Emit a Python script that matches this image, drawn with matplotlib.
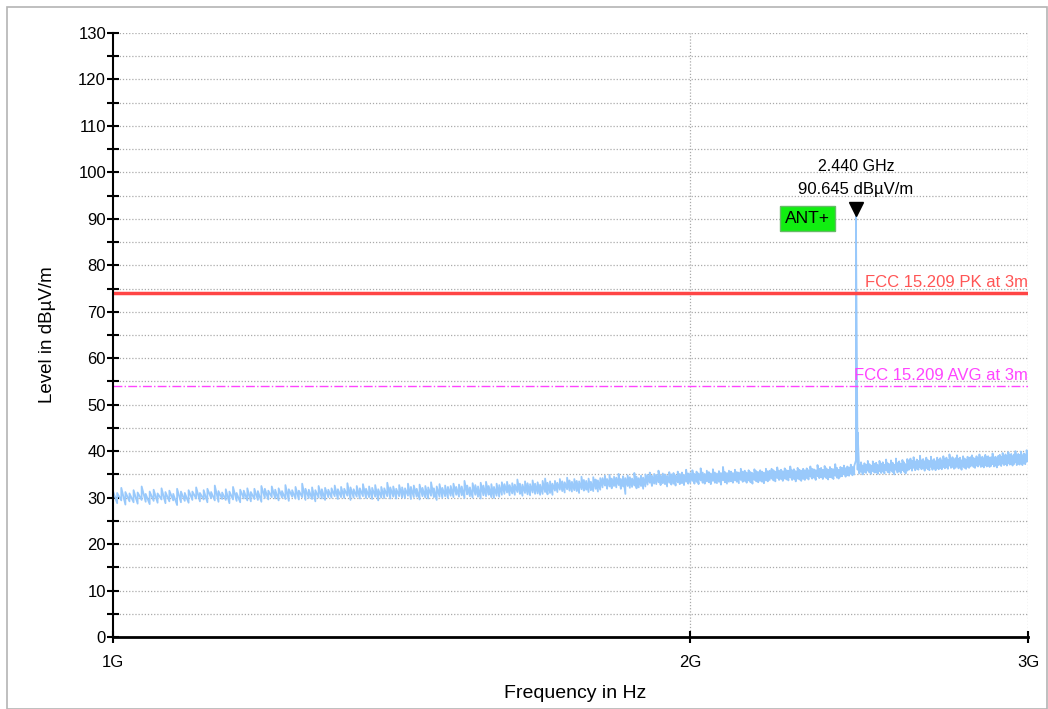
import numpy as np
import matplotlib
matplotlib.use("Agg")
import matplotlib.pyplot as plt
from matplotlib.patches import Rectangle
from matplotlib.ticker import FixedLocator, NullLocator

plt.rcParams['font.family'] = ['Liberation Sans', 'DejaVu Sans']

# sweep 1 GHz .. 3 GHz, 5 MHz bins (401 points)
freq_ghz = np.linspace(1.0, 3.0, 401)

# max level in each bin, dBuV/m (one row per 100 MHz)
level_max = [
    31.4, 31.0, 32.1, 31.2, 30.9, 31.6, 31.1, 32.4, 30.8, 31.3, 31.7, 30.9, 32.0, 31.2, 31.5, 30.8, 31.9, 31.3, 31.0, 31.6,
    31.3, 32.2, 31.0, 31.6, 31.9, 31.2, 32.6, 31.4, 31.1, 31.8, 31.3, 32.3, 31.0, 31.7, 31.5, 32.0, 31.2, 31.9, 31.4, 32.5,
    31.9, 31.5, 32.4, 31.7, 32.0, 31.4, 32.7, 31.8, 31.6, 32.3, 31.5, 33.0, 31.9, 31.7, 32.2, 31.6, 32.5, 31.8, 32.1, 31.7,
    32.0, 32.6, 31.8, 32.3, 31.9, 33.1, 32.2, 31.8, 32.5, 32.0, 32.9, 31.9, 32.4, 32.1, 32.7, 31.8, 32.3, 32.0, 33.2, 32.2,
    32.4, 31.9, 32.7, 32.2, 32.0, 33.0, 32.3, 32.6, 31.9, 32.8, 32.1, 32.5, 32.2, 33.3, 32.0, 32.4, 32.9, 32.1, 32.6, 32.3,
    32.5, 33.0, 32.3, 32.8, 32.4, 33.6, 32.6, 32.2, 33.1, 32.7, 32.4, 33.2, 32.6, 33.4, 32.5, 32.9, 32.3, 33.0, 32.7, 33.3,
    32.9, 33.4, 32.7, 33.1, 32.8, 33.9, 33.0, 32.8, 33.5, 33.1, 32.9, 33.7, 33.0, 33.3, 32.8, 33.6, 34.1, 33.2, 33.5, 33.0,
    33.6, 33.2, 34.0, 33.5, 33.3, 34.3, 33.7, 33.4, 34.0, 33.6, 33.5, 34.5, 33.8, 33.6, 34.1, 33.4, 34.4, 33.9, 33.7, 34.2,
    34.2, 34.7, 34.0, 34.9, 34.1, 34.5, 34.3, 35.1, 34.0, 34.6, 34.2, 34.8, 34.4, 34.1, 35.3, 34.5, 34.2, 34.7, 34.3, 35.0,
    34.9, 35.4, 34.7, 35.1, 34.9, 35.8, 34.8, 35.2, 35.0, 34.7, 35.5, 35.0, 35.3, 34.8, 35.6, 35.1, 35.4, 34.9, 36.0, 35.2,
    35.3, 35.9, 35.1, 35.6, 35.2, 36.3, 35.4, 35.1, 35.8, 35.5, 35.2, 36.1, 35.4, 35.2, 35.7, 35.3, 36.6, 35.5, 35.3, 35.8,
    35.6, 35.3, 36.0, 35.5, 35.4, 36.2, 35.6, 35.8, 35.4, 35.9, 35.5, 35.3, 36.1, 35.7, 35.5, 35.9, 35.6, 35.4, 36.2, 35.7,
    35.8, 36.2, 35.9, 35.6, 36.5, 35.8, 36.0, 35.7, 36.3, 35.9, 35.8, 36.7, 35.9, 36.1, 35.7, 36.4, 36.0, 35.8, 36.2, 35.9,
    36.3, 35.9, 36.7, 36.2, 36.1, 35.9, 37.0, 36.2, 36.4, 36.0, 36.8, 36.3, 36.0, 36.6, 36.2, 36.1, 37.2, 36.4, 36.0, 36.6,
    36.4, 36.9, 36.3, 36.7, 36.5, 37.1, 36.6, 36.8, 90.645, 44.0, 37.0, 37.6, 36.9, 37.4, 37.1, 37.9, 37.2, 36.9, 37.8, 37.3,
    37.5, 37.0, 37.9, 37.3, 37.6, 37.1, 38.2, 37.4, 37.2, 38.0, 37.5, 37.1, 38.4, 37.4, 37.8, 37.3, 38.1, 37.6, 37.2, 38.3,
    38.0, 38.4, 37.9, 38.7, 37.8, 38.2, 37.9, 39.0, 38.0, 38.3, 37.8, 38.6, 38.1, 37.9, 38.8, 38.0, 38.3, 37.8, 38.6, 38.1,
    38.5, 38.0, 38.9, 38.3, 38.6, 38.1, 39.3, 38.4, 38.7, 38.2, 38.5, 39.1, 38.3, 38.6, 38.0, 38.9, 38.4, 38.2, 38.8, 38.5,
    38.7, 39.1, 38.5, 38.4, 38.9, 38.6, 39.3, 38.5, 38.8, 38.4, 39.2, 38.7, 38.9, 38.5, 38.7, 39.5, 38.6, 38.8, 38.4, 39.0,
    39.2, 38.8, 39.6, 39.0, 39.3, 38.9, 39.8, 39.1, 39.4, 38.9, 39.3, 40.0, 39.0, 39.4, 39.2, 39.9, 39.1, 39.5, 39.3, 40.2,
    39.8,
]

# min level in each bin, dBuV/m
level_min = [
    29.1, 28.8, 29.4, 28.5, 29.2, 29.0, 28.7, 29.5, 29.1, 28.6, 29.3, 28.9, 29.6, 28.8, 29.2, 29.4, 28.4, 29.0, 29.3, 28.9,
    29.5, 29.8, 29.2, 29.6, 29.0, 29.9, 29.4, 29.1, 29.7, 29.5, 28.8, 29.6, 29.3, 29.0, 29.8, 29.4, 29.2, 29.7, 29.5, 29.1,
    29.9, 29.6, 30.1, 29.8, 29.4, 30.0, 29.7, 29.3, 30.2, 29.8, 29.6, 30.1, 29.5, 29.9, 29.7, 29.2, 30.0, 29.8, 29.5, 30.1,
    30.0, 30.3, 29.7, 30.1, 29.9, 30.4, 29.5, 30.0, 30.2, 29.8, 30.3, 29.9, 30.1, 29.7, 30.2, 29.4, 30.0, 29.9, 30.3, 29.8,
    30.2, 29.8, 30.3, 30.0, 29.9, 30.4, 29.7, 30.1, 30.2, 29.6, 30.3, 30.0, 29.8, 30.4, 30.1, 29.5, 30.2, 30.0, 30.3, 29.9,
    30.4, 30.1, 30.6, 30.2, 30.5, 29.9, 30.7, 30.3, 30.0, 30.6, 30.2, 29.8, 30.5, 30.3, 30.6, 30.1, 29.9, 30.4, 30.2, 30.6,
    30.8, 31.1, 30.5, 30.9, 30.6, 31.2, 30.8, 30.4, 31.0, 30.7, 30.5, 31.1, 30.8, 30.9, 30.6, 30.8, 31.2, 30.7, 31.0, 30.6,
    31.5, 31.2, 31.7, 31.4, 31.1, 31.8, 31.5, 31.3, 31.6, 31.4, 31.0, 31.8, 31.5, 31.7, 31.2, 31.6, 31.4, 31.9, 31.3, 31.7,
    32.2, 32.6, 31.9, 32.4, 32.0, 32.5, 32.2, 32.7, 31.9, 32.4, 30.8, 32.5, 32.1, 32.3, 32.6, 32.0, 32.2, 32.5, 31.9, 32.4,
    32.8, 33.2, 32.5, 33.0, 32.9, 33.3, 32.7, 33.1, 32.9, 32.4, 33.2, 32.8, 33.0, 32.6, 33.3, 32.9, 33.1, 32.7, 33.4, 33.0,
    33.2, 33.6, 33.0, 33.4, 32.9, 33.7, 33.2, 33.0, 33.5, 33.3, 32.9, 33.6, 33.2, 33.1, 33.4, 32.8, 33.7, 33.3, 33.0, 33.4,
    33.5, 33.2, 33.7, 33.4, 33.1, 33.8, 33.4, 33.6, 33.2, 33.7, 33.3, 33.0, 33.8, 33.5, 33.3, 33.6, 33.4, 33.1, 33.7, 33.5,
    33.8, 34.1, 33.7, 33.5, 34.2, 33.8, 34.0, 33.6, 34.1, 33.9, 33.7, 34.3, 33.8, 34.0, 33.5, 34.1, 33.9, 33.6, 34.0, 33.8,
    34.2, 33.9, 34.5, 34.1, 34.3, 33.8, 34.6, 34.2, 34.4, 34.0, 34.5, 34.2, 33.9, 34.4, 34.3, 34.0, 34.7, 34.3, 34.1, 34.5,
    34.6, 35.0, 34.5, 34.8, 34.7, 35.1, 34.8, 35.0, 38.0, 36.0, 35.2, 35.6, 35.0, 35.5, 35.3, 35.8, 35.4, 35.1, 35.7, 35.4,
    35.4, 35.1, 35.7, 35.3, 35.6, 35.2, 35.9, 35.5, 35.3, 35.8, 35.5, 35.0, 36.0, 35.4, 35.7, 35.3, 35.9, 35.6, 35.2, 35.8,
    36.0, 36.3, 35.8, 36.4, 35.9, 36.2, 36.0, 36.5, 36.1, 36.3, 35.8, 36.4, 36.1, 35.9, 36.6, 36.0, 36.3, 35.9, 36.4, 36.1,
    36.4, 36.1, 36.6, 36.3, 36.5, 36.2, 36.9, 36.4, 36.6, 36.2, 36.4, 36.8, 36.3, 36.5, 36.0, 36.7, 36.4, 36.2, 36.6, 36.4,
    36.7, 37.0, 36.6, 36.4, 36.9, 36.7, 37.1, 36.6, 36.8, 36.5, 37.0, 36.7, 36.9, 36.6, 36.8, 37.2, 36.7, 36.9, 36.5, 37.0,
    37.1, 36.8, 37.3, 37.0, 37.2, 36.9, 37.5, 37.1, 37.3, 36.9, 37.2, 37.6, 37.0, 37.3, 37.1, 37.5, 37.0, 37.4, 37.2, 37.7,
    37.9,
]

limit_pk = 74.0
limit_avg = 54.0
peak_freq = 2.440
peak_level = 90.645

x_ticks = [1.0, 2.0, 3.0]
x_ticklabels = ['1G', '2G', '3G']

fig = plt.figure(figsize=(10.48, 7.09), dpi=100)
ax = fig.add_axes([113 / 1048, 1 - 637 / 709, 915 / 1048, 604 / 709])

# grey frame round the whole picture
fig.patches.append(Rectangle((7 / 1048, 0.0), 1040 / 1048, 702 / 709, transform=fig.transFigure,
                             fill=False, edgecolor='#b4b4b4', lw=1.2))

ax.set_xscale('log')
ax.set_xlim(1.0, 3.0)
ax.set_ylim(0, 130)

# grid
for yv in np.arange(5, 131, 5):
    ax.axhline(yv, color='#aaaaaa', lw=0.9, ls=(0, (1, 1.5)), zorder=0)
for xv in [2.0, 3.0]:
    ax.axvline(xv, color='#aaaaaa', lw=0.9, ls=(0, (1, 1.5)), zorder=0)

# trace: min -> max in every bin, so it draws as a band
trace_x = np.repeat(freq_ghz, 2)
trace_y = np.column_stack([level_min, level_max]).ravel()
ax.plot(trace_x, trace_y, color='#99c9fb', lw=1.3, zorder=2)

ax.axhline(limit_pk, color='#ff4545', lw=2.5, zorder=3)
ax.axhline(limit_avg, color='#ff44ff', lw=1.0, ls='-.', zorder=3)
ax.text(3.0, limit_pk + 0.6, 'FCC 15.209 PK at 3m', color='#ff5555', fontsize=12,
        ha='right', va='bottom', zorder=4)
ax.text(3.0, limit_avg + 0.7, 'FCC 15.209 AVG at 3m', color='#ff44ff', fontsize=12,
        ha='right', va='bottom', zorder=4)

# marker
ax.plot([peak_freq], [92.1], marker='v', color='black', ms=10, zorder=5)
ax.text(peak_freq, 101.2, f'{peak_freq:.3f} GHz', fontsize=11.5, ha='center', va='center')
ax.text(peak_freq, 96.3, f'{peak_level:.3f} dBµV/m', fontsize=12, ha='center', va='center')
ax.text(2.302, 90.0, 'ANT+', fontsize=12.5, ha='center', va='center', zorder=6,
        bbox=dict(boxstyle='square,pad=0.28', facecolor='#11ee11', edgecolor='#66bb66', lw=1))

for s in ['top', 'right']:
    ax.spines[s].set_visible(False)
ax.spines['left'].set_linewidth(1.5)
ax.spines['bottom'].set_linewidth(2.0)
ax.spines['left'].set_zorder(6)
ax.spines['bottom'].set_zorder(6)

ax.yaxis.set_major_locator(FixedLocator(np.arange(0, 131, 10)))
ax.yaxis.set_minor_locator(FixedLocator(np.arange(5, 130, 10)))
ax.xaxis.set_major_locator(FixedLocator(x_ticks))
ax.xaxis.set_minor_locator(NullLocator())
ax.set_xticklabels(x_ticklabels)
ax.tick_params(axis='y', which='both', direction='inout', length=8, width=1.5, labelsize=12, pad=1)
ax.tick_params(axis='x', which='both', direction='inout', length=8, width=1.5, labelsize=12, pad=9)

fig.text(47 / 1048, 1 - 335 / 709, 'Level in dBµV/m', rotation=90, fontsize=13.5, ha='center', va='center')
fig.text(575 / 1048, 1 - 693 / 709, 'Frequency in Hz', fontsize=14, ha='center', va='center')

fig.savefig('out.png', dpi=100)
